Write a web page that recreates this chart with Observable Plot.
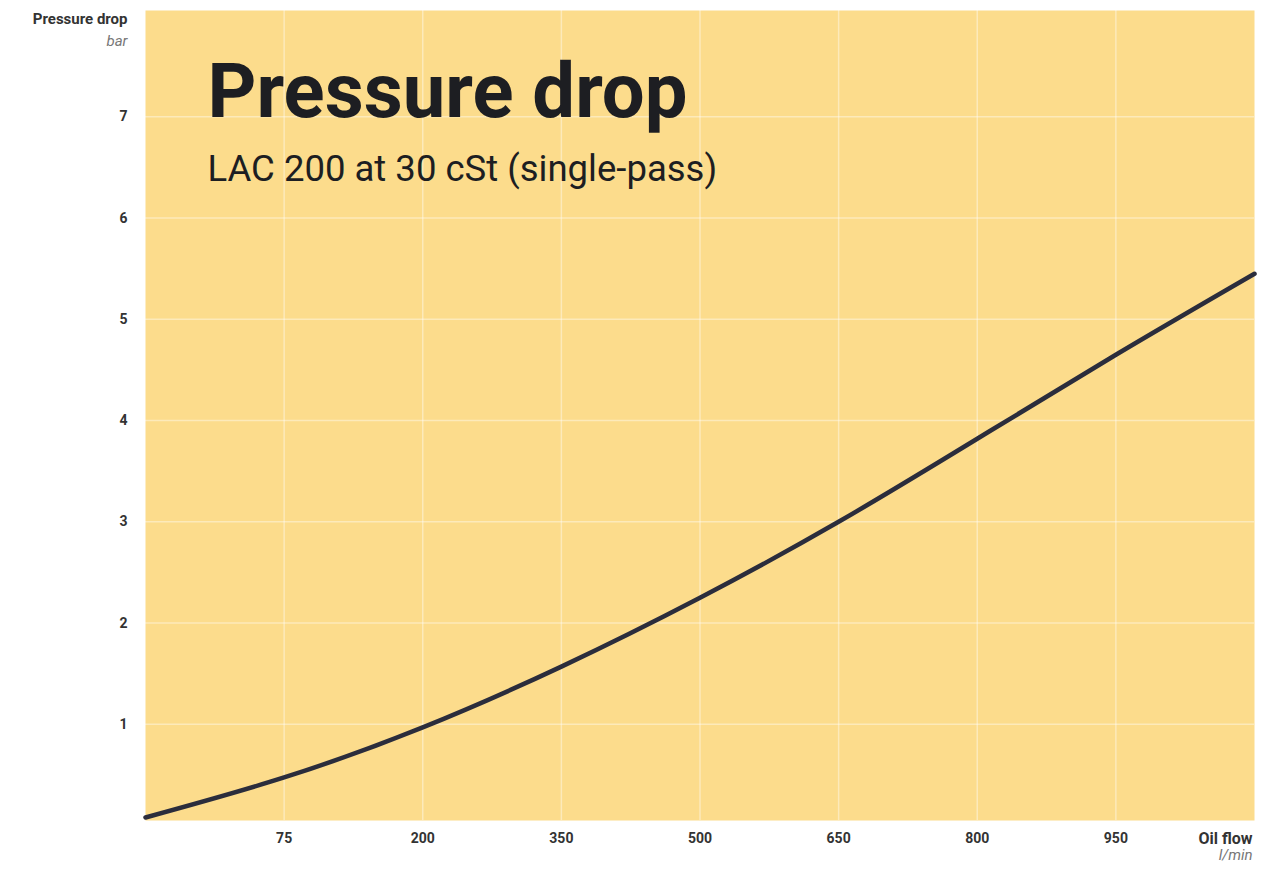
<!DOCTYPE html>
<html>
<head>
<meta charset="utf-8">
<script src="https://cdn.jsdelivr.net/npm/d3@7"></script>
<script src="https://cdn.jsdelivr.net/npm/@observablehq/plot@0.6"></script>
<style>
  html, body { margin: 0; padding: 0; background: #ffffff; }
  #chart svg { display: block; }
</style>
</head>
<body>
<div id="chart"></div>
<script>
// Oil flow tick labels (l/min), evenly spaced along the axis
const flowLabels = ["75", "200", "350", "500", "650", "800", "950"];
const flowTickPos = [1, 2, 3, 4, 5, 6, 7];
// Curve samples: position along the evenly spaced flow axis, pressure drop (bar)
const curvePos = [0, 1, 2, 3, 4, 5, 6, 7, 8];
const pressure = [0.08, 0.475, 0.97, 1.57, 2.25, 3.0, 3.82, 4.65, 5.45];
const pressureTicks = [1, 2, 3, 4, 5, 6, 7];

const data = curvePos.map((p, i) => ({pos: p, bar: pressure[i]}));

const ink = "#1d1e22";
const tickInk = "#333333";

const chart = Plot.plot({
  width: 1263,
  height: 876,
  marginLeft: 145,
  marginRight: 9,
  marginTop: 10,
  marginBottom: 56,
  style: {fontFamily: "Roboto, 'Open Sans', sans-serif", background: "#ffffff"},
  x: {domain: [0, 8]},
  y: {domain: [0.05, 8.05]},
  marks: [
    Plot.frame({fill: "#FCDC8C", stroke: null}),
    Plot.gridX(flowTickPos, {stroke: "#ffffff", strokeOpacity: 0.4, strokeWidth: 1.5}),
    Plot.gridY(pressureTicks, {stroke: "#ffffff", strokeOpacity: 0.4, strokeWidth: 1.5}),
    Plot.axisY(pressureTicks, {tickSize: 0, tickPadding: 18, fontSize: 14, fontWeight: "bold", fill: tickInk, label: null,
      tickFormat: (d) => String(d)}),
    Plot.axisX(flowTickPos, {tickSize: 0, tickPadding: 13, fontSize: 14, fontWeight: "bold", fill: tickInk, label: null,
      tickFormat: (d) => flowLabels[d - 1]}),
    Plot.line(data, {x: "pos", y: "bar", curve: "natural", stroke: "#2b2d3c", strokeWidth: 4.5}),
    // axis titles
    Plot.text(["Pressure drop"], {frameAnchor: "top-left", textAnchor: "end", lineAnchor: "top", dx: -18, dy: 3,
      fontSize: 15, fontWeight: "bold", fill: tickInk}),
    Plot.text(["bar"], {frameAnchor: "top-left", textAnchor: "end", lineAnchor: "top", dx: -18, dy: 25,
      fontSize: 15, fontStyle: "italic", fill: "#777777"}),
    Plot.text(["Oil flow"], {frameAnchor: "bottom-right", textAnchor: "end", lineAnchor: "top", dx: -2, dy: 12,
      fontSize: 16, fontWeight: "bold", fill: tickInk}),
    Plot.text(["l/min"], {frameAnchor: "bottom-right", textAnchor: "end", lineAnchor: "top", dx: -2, dy: 29,
      fontSize: 15, fontStyle: "italic", fill: "#777777"}),
    // title and subtitle inside the plot
    Plot.text(["Pressure drop"], {frameAnchor: "top-left", textAnchor: "start", lineAnchor: "top", dx: 62, dy: 53,
      fontSize: 76, fontWeight: "bold", fill: ink}),
    Plot.text(["LAC 200 at 30 cSt (single-pass)"], {frameAnchor: "top-left", textAnchor: "start", lineAnchor: "top", dx: 62, dy: 145,
      fontSize: 36.5, fill: ink})
  ]
});

document.getElementById("chart").appendChild(chart);
</script>
</body>
</html>
